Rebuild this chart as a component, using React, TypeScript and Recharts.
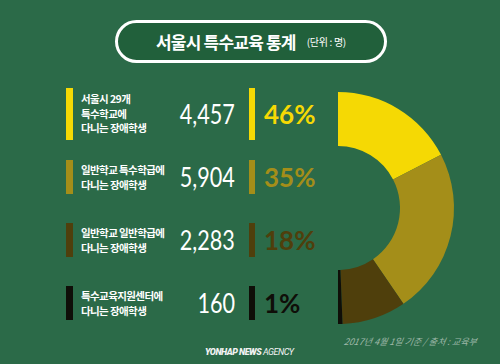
import { PieChart, Pie, Cell } from "recharts"

// 서울시 특수교육 통계 (단위: 명)
const categories = [
  ["서울시 29개", "특수학교에", "다니는 장애학생"],
  ["일반학교 특수학급에", "다니는 장애학생"],
  ["일반학교 일반학급에", "다니는 장애학생"],
  ["특수교육지원센터에", "다니는 장애학생"],
]
const counts = [4457, 5904, 2283, 160]
const percentLabels = ["46%", "35%", "18%", "1%"]
const colors = ["#f5d904", "#a48e19", "#4f3f0c", "#0f0e08"]

const data = counts.map((value, i) => ({ name: categories[i].join(" "), value }))

// row layout (top of marker bar, bar height)
const rows = [
  { top: 88, h: 52 },
  { top: 160, h: 34 },
  { top: 223, h: 34 },
  { top: 286, h: 34 },
]

const BG = "#2b6a48"
const KR = '"Noto Sans CJK KR", "Noto Sans", sans-serif'

export default function App() {
  return (
    <div style={{ position: "absolute", left: 0, top: 0, width: 500, height: 364, background: BG, overflow: "hidden" }}>
      <div style={{ position: "absolute", left: 0, top: 0 }}>
        <PieChart width={500} height={364}>
          <Pie
            data={data}
            dataKey="value"
            cx={333}
            cy={203}
            innerRadius={62}
            outerRadius={116}
            startAngle={90}
            endAngle={-90}
            stroke="none"
            isAnimationActive={false}
          >
            {data.map((d, i) => (
              <Cell key={d.name} fill={colors[i]} />
            ))}
          </Pie>
        </PieChart>
      </div>

      {/* title */}
      <div
        style={{
          position: "absolute",
          left: 115,
          top: 20,
          width: 266,
          height: 37,
          border: "3px solid #ffffff",
          borderRadius: 22,
          background: "#21603b",
          display: "flex",
          alignItems: "center",
          justifyContent: "center",
          fontFamily: KR,
          color: "#fff",
        }}
      >
        <span style={{ fontSize: 17, fontWeight: 700, letterSpacing: -0.8 }}>서울시 특수교육 통계</span>
        <span style={{ fontSize: 10, marginLeft: 11, letterSpacing: -0.3 }}>(단위 : 명)</span>
      </div>

      {rows.map((r, i) => (
        <div key={i}>
          <div style={{ position: "absolute", left: 66, top: r.top, width: 7, height: r.h, background: colors[i] }} />
          <div
            style={{
              position: "absolute",
              left: 81,
              top: r.top + r.h / 2,
              transform: "translateY(-50%)",
              fontFamily: KR,
              fontSize: 10.5,
              fontWeight: 700,
              lineHeight: "14.5px",
              letterSpacing: -0.6,
              color: "#fff",
              whiteSpace: "nowrap",
            }}
          >
            {categories[i].map((line) => (
              <div key={line}>{line}</div>
            ))}
          </div>
          <div
            style={{
              position: "absolute",
              right: 500 - 235,
              top: r.top + r.h / 2 - 18,
              height: 36,
              lineHeight: "36px",
              fontFamily: "Lato, sans-serif",
              fontSize: 27,
              color: "#fff",
              transform: "scaleX(0.8)",
              transformOrigin: "right center",
              whiteSpace: "nowrap",
            }}
          >
            {counts[i].toLocaleString("en-US")}
          </div>
          <div style={{ position: "absolute", left: 249, top: r.top, width: 6, height: r.h, background: colors[i] }} />
          <div
            style={{
              position: "absolute",
              left: 264,
              top: r.top + r.h / 2 - 18,
              height: 36,
              lineHeight: "36px",
              fontFamily: "Lato, sans-serif",
              fontSize: 26,
              fontWeight: 700,
              color: colors[i],
              whiteSpace: "nowrap",
            }}
          >
            {percentLabels[i]}
          </div>
        </div>
      ))}

      <div
        style={{
          position: "absolute",
          right: 23,
          top: 335,
          fontFamily: KR,
          fontSize: 9,
          fontStyle: "italic",
          color: "#9fb8a8",
          whiteSpace: "nowrap",
          transform: "skewX(-10deg)",
        }}
      >
        2017년 4월 1일 기준 / 출처 : 교육부
      </div>
      <div
        style={{
          position: "absolute",
          left: 205,
          top: 347,
          fontFamily: "Roboto, sans-serif",
          fontSize: 9,
          fontStyle: "italic",
          color: "#f2f2f2",
          whiteSpace: "nowrap",
          letterSpacing: -0.5,
        }}
      >
        <span style={{ fontWeight: 900 }}>YONHAP NEWS </span>
        <span style={{ fontWeight: 400 }}>AGENCY</span>
      </div>
    </div>
  )
}
